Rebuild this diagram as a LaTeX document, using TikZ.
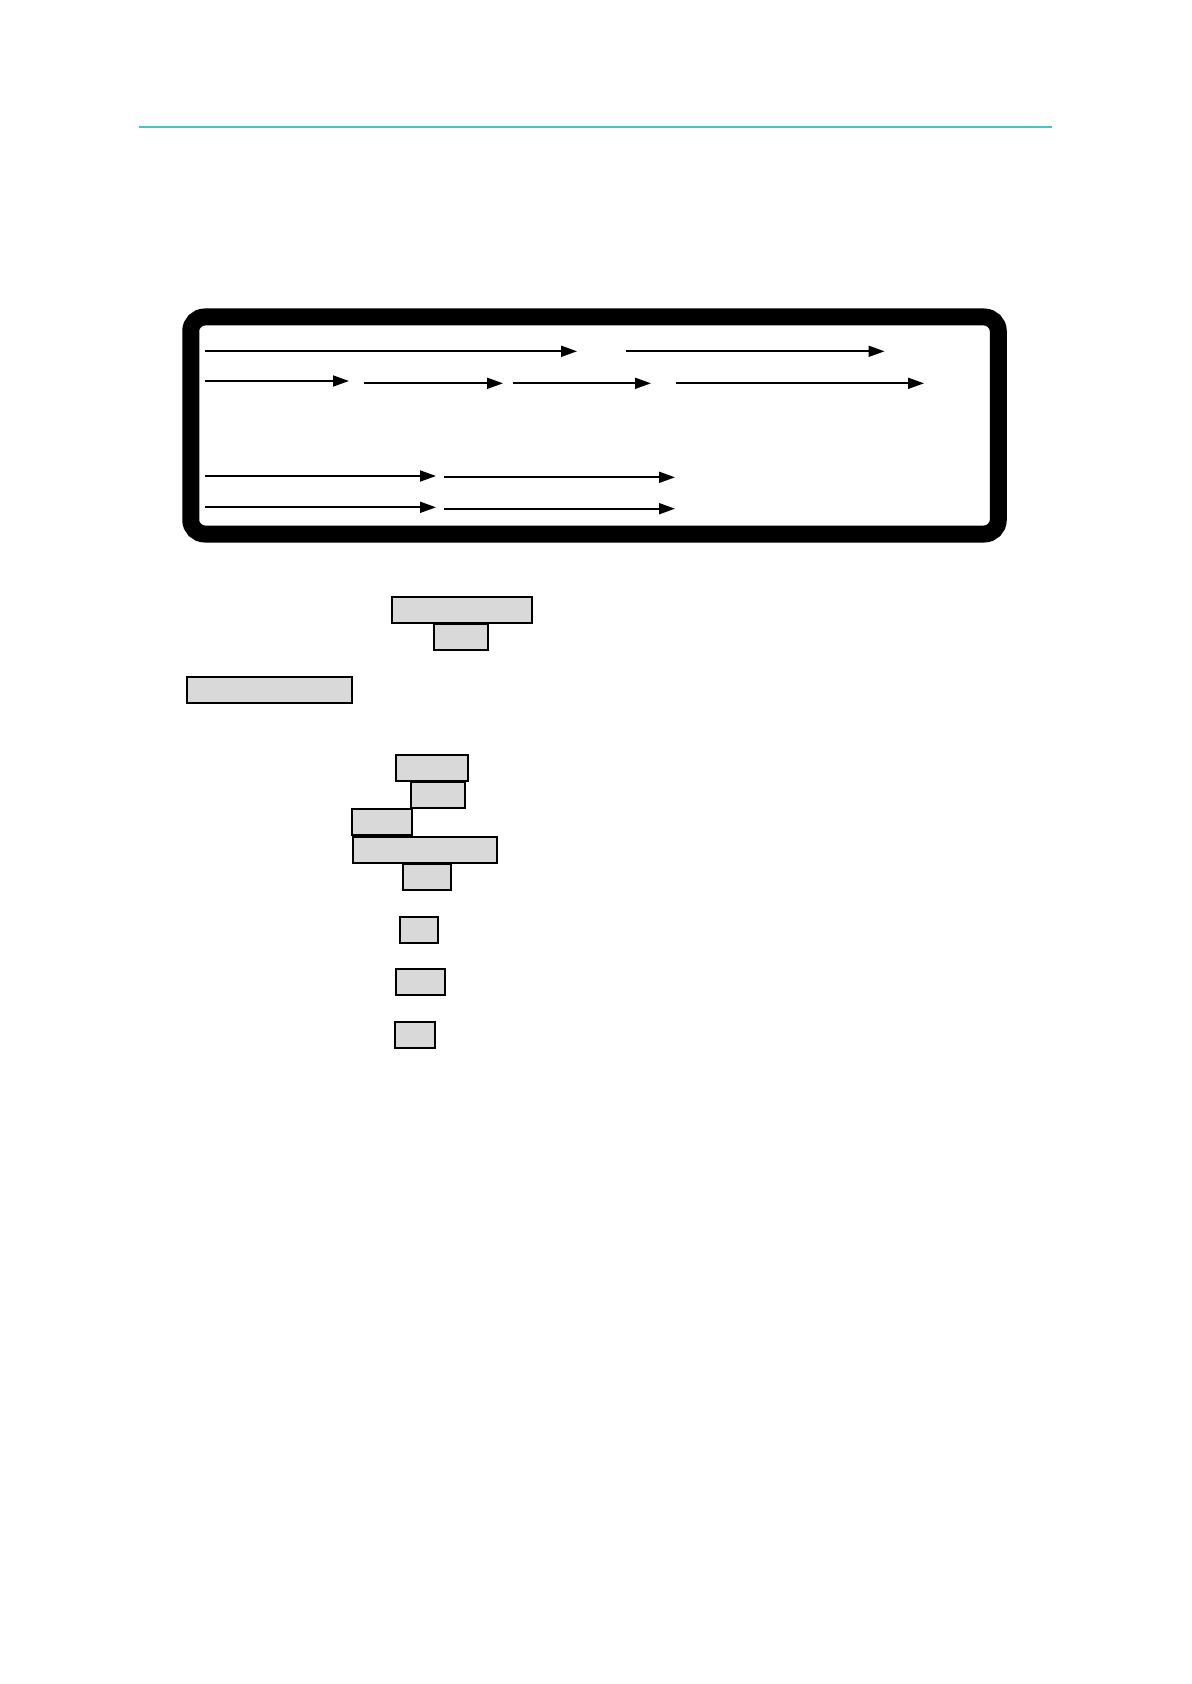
\documentclass[tikz,border=0pt]{standalone}
\usetikzlibrary{arrows.meta}
\definecolor{teal1}{RGB}{75,195,195}
\definecolor{boxgray}{RGB}{217,217,217}
\begin{document}
\begin{tikzpicture}[x=0.5pt,y=-0.5pt,
  gbox/.style={draw=black,line width=0.6pt,fill=boxgray,inner sep=0pt,outer sep=0pt,minimum height=13pt},
  arr/.style={line width=0.9pt,-{Triangle[length=8pt,width=5.5pt]}},
  framebox/.style={draw=black,line width=8.5pt,rounded corners=7pt,inner sep=0pt,minimum width=403.75pt,minimum height=108.5pt}]
\useasboundingbox (0,0) rectangle (1191,1684);
% top rule
\coordinate (r1) at (139,126.7);
\coordinate (r2) at (1052,126.7);
\draw[teal1,line width=1pt] (r1) -- (r2);
% frame
\node[framebox] (frame) at (594.5,425.5) {};
% arrows
\coordinate (a1s) at (205,351.3); \coordinate (a1e) at (577,351.3);
\coordinate (a2s) at (626,351.3); \coordinate (a2e) at (884.5,351.3);
\coordinate (b1s) at (205,381); \coordinate (b1e) at (349,381);
\coordinate (b2s) at (364,383.3); \coordinate (b2e) at (503,383.3);
\coordinate (b3s) at (512.5,383.3); \coordinate (b3e) at (651,383.3);
\coordinate (b4s) at (676,383.3); \coordinate (b4e) at (924,383.3);
\coordinate (c1s) at (205,476); \coordinate (c1e) at (436,476);
\coordinate (c2s) at (444,477.3); \coordinate (c2e) at (675,477.3);
\coordinate (d1s) at (205,507.3); \coordinate (d1e) at (436,507.3);
\coordinate (d2s) at (444,508.7); \coordinate (d2e) at (675,508.7);
\foreach \p in {a1,a2,b1,b2,b3,b4,c1,c2,d1,d2}{
  \draw[arr] (\p s) -- (\p e);
}
% gray boxes
\node[gbox,minimum width=70pt] (A) at (462,610) {};
\node[gbox,minimum width=27pt] (B) at (461,637) {};
\node[gbox,minimum width=82.5pt] (C) at (269.5,690) {};
\node[gbox,minimum width=36pt] (D) at (432,768) {};
\node[gbox,minimum width=27pt] (E) at (438,795) {};
\node[gbox,minimum width=30pt] (F) at (382,822) {};
\node[gbox,minimum width=72pt] (G) at (425,850) {};
\node[gbox,minimum width=24pt] (H) at (427,877) {};
\node[gbox,minimum width=19pt] (I) at (419,930) {};
\node[gbox,minimum width=24.5pt] (J) at (420.5,982) {};
\node[gbox,minimum width=20pt] (K) at (415,1035) {};
\end{tikzpicture}
\end{document}
